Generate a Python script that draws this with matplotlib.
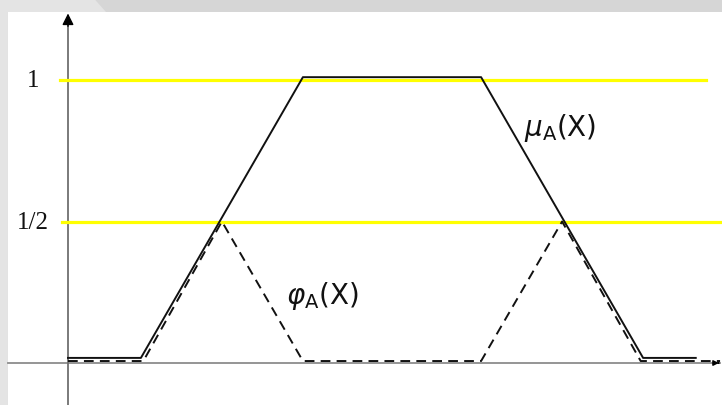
import numpy as np
import matplotlib
matplotlib.use("Agg")
from matplotlib import pyplot as plt
from matplotlib.patches import Rectangle, Polygon

# membership function mu_A (solid) and phi_A (dashed)
mu_x = [0, 0.9, 2.9, 5.1, 7.1, 7.75]
mu_y = [0.018, 0.018, 1.01, 1.01, 0.018, 0.018]
phi_x = [0, 0.93, 1.9, 2.9, 5.1, 6.1, 7.07, 8.05]
phi_y = [0.007, 0.007, 0.5, 0.007, 0.007, 0.5, 0.007, 0.007]

levels = [1, 0.5]
level_labels = ['1', '1/2']
level_xstart = [-0.099, -0.074]
level_xend = [7.877, 8.074]

fig = plt.figure(figsize=(7.22, 4.05), dpi=100)
fig.patch.set_facecolor('#d6d6d6')

# slide frame: lighter strip top-left, white panel
fig.patches.append(Polygon([[0, 0], [0, 1], [0.132, 1], [0.147, 0.97], [0.011, 0.97], [0.011, 0]],
                           closed=True, transform=fig.transFigure, facecolor='#e4e4e4',
                           edgecolor='none', zorder=-2))
fig.patches.append(Rectangle((0.011, 0), 0.989, 0.97, transform=fig.transFigure,
                             facecolor='white', edgecolor='none', zorder=-1))

ax = fig.add_axes([0, 0, 1, 1])
ax.set_zorder(1)
ax.set_facecolor('none')
ax.set_xlim(-68/81, (722-68)/81)
ax.set_ylim(-(405-363)/283, 363/283)
ax.axis('off')

# axes with arrows
ax.plot([-0.74, 8.05], [0, 0], color='#8c8c8c', lw=1.3, zorder=1)
ax.plot([0, 0], [-0.2, 1.2], color='#707070', lw=1.3, zorder=1)
ax.annotate('', xy=(0, 1.245), xytext=(0, 1.18),
            arrowprops=dict(arrowstyle='-|>', color='black', lw=1, mutation_scale=17))
ax.annotate('', xy=(8.07, 0), xytext=(8.0, 0),
            arrowprops=dict(arrowstyle='-|>', color='black', lw=1, mutation_scale=8))

for lv, lab, xs, xe in zip(levels, level_labels, level_xstart, level_xend):
    ax.plot([xs, xe], [lv, lv], color='#ffff00', lw=2.3, zorder=2)
    ax.text(-0.43, lv - 0.005, lab, ha='center', va='center', fontsize=18,
            family='Liberation Serif', color='#111111')

ax.plot(mu_x, mu_y, color='#111111', lw=1.4, zorder=3)
ax.plot(phi_x, phi_y, color='#111111', lw=1.4, ls=(0, (5, 3.2)), zorder=3)

ax.text(5.63, 0.83, r'$\mu_{\mathrm{A}}$(X)', fontsize=20, ha='left', va='center',
        color='#111111')
ax.text(2.69, 0.235, r'$\varphi_{\mathrm{A}}$(X)', fontsize=20, ha='left', va='center',
        color='#111111')

plt.savefig('out.png', dpi=100, facecolor=fig.get_facecolor())
